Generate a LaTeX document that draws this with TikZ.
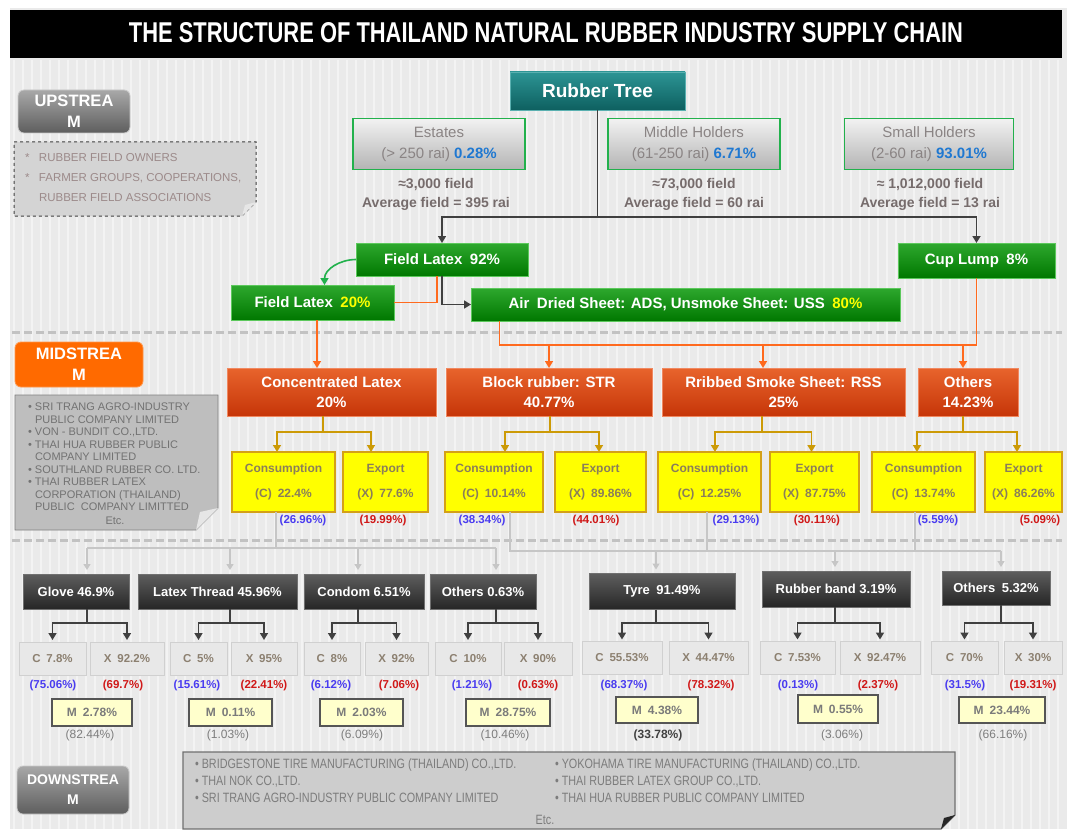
\documentclass[tikz,border=0pt]{standalone}
\usepackage{fontspec}
\usepackage{graphicx}
\setmainfont{Liberation Sans}
\newfontfamily\narrowfont[FakeStretch=0.8]{Liberation Sans}
\usetikzlibrary{arrows.meta,shadings,calc}
\definecolor{bgc}{HTML}{EAEAEA}
\definecolor{stripec}{HTML}{F3F3F3}
\definecolor{tealT}{HTML}{2C9494}
\definecolor{tealB}{HTML}{0E6060}
\definecolor{tealE}{HTML}{5AB0B0}
\definecolor{grnT}{HTML}{2EA82E}
\definecolor{grnB}{HTML}{007800}
\definecolor{grnE}{HTML}{5CC85C}
\definecolor{hbT}{HTML}{F2F2F2}
\definecolor{hbB}{HTML}{B4B4B4}
\definecolor{hbE}{HTML}{22B14C}
\definecolor{hbtxt}{HTML}{8A8484}
\definecolor{infotxt}{HTML}{766C6C}
\definecolor{pctblue}{HTML}{1F78D1}
\definecolor{redT}{HTML}{E8642C}
\definecolor{redB}{HTML}{C63508}
\definecolor{redE}{HTML}{F08860}
\definecolor{goldc}{HTML}{CC9A06}
\definecolor{orng}{HTML}{FF6A1E}
\definecolor{ylw}{HTML}{FFFF00}
\definecolor{ylwE}{HTML}{D4A017}
\definecolor{ytxt}{HTML}{8A7E5A}
\definecolor{dkT}{HTML}{5E5E5E}
\definecolor{dkB}{HTML}{262626}
\definecolor{dkE}{HTML}{707070}
\definecolor{cxF}{HTML}{E8E8E8}
\definecolor{cxE}{HTML}{D0D0D0}
\definecolor{cxtxt}{HTML}{8C8070}
\definecolor{mF}{HTML}{FFFFCC}
\definecolor{mE}{HTML}{555555}
\definecolor{mtxt}{HTML}{7A7A7A}
\definecolor{lblue}{HTML}{4A3CF0}
\definecolor{lred}{HTML}{D01818}
\definecolor{gtxt}{HTML}{7E7E7E}
\definecolor{gline}{HTML}{C6C6C6}
\definecolor{dline}{HTML}{404040}
\definecolor{lblT}{HTML}{A8A8A8}
\definecolor{lblB}{HTML}{5E5E5E}
\definecolor{lblE}{HTML}{C8C8C8}
\definecolor{midO}{HTML}{FF6A00}
\definecolor{upnote}{HTML}{D4D4D4}
\definecolor{midnote}{HTML}{BEBEBE}
\definecolor{dnnote}{HTML}{CDCDCD}
\definecolor{foldc}{HTML}{E6E6E6}
\definecolor{notetxt}{HTML}{9C8A8A}
\definecolor{notetxt2}{HTML}{727272}
\definecolor{dntxt}{HTML}{7C7C7C}
\definecolor{sepc}{HTML}{C2C2C2}
\begin{document}
\begin{tikzpicture}[x=1pt,y=-1pt,
 bx/.style={inner sep=0pt, outer sep=0pt, align=center},
 sz/.style 2 args={minimum width=#1pt, minimum height=#2pt},
 tealbox/.style={bx, top color=tealT, bottom color=tealB, draw=tealE, line width=0.8pt, text=white, font=\fontsize{19}{22}\selectfont\bfseries},
 holder/.style={bx, top color=hbT, bottom color=hbB, draw=hbE, line width=1.6pt, text=hbtxt, font=\fontsize{15}{21}\selectfont},
 info/.style={bx, text=infotxt, font=\fontsize{14}{19}\selectfont\bfseries},
 gbox/.style={bx, top color=grnT, bottom color=grnB, draw=grnE, line width=0.8pt, text=white, font=\fontsize{15}{18}\selectfont\bfseries},
 rbox/.style={bx, top color=redT, bottom color=redB, draw=redE, line width=0.8pt, text=white, font=\fontsize{15}{20}\selectfont\bfseries},
 ybox/.style={bx, fill=ylw, draw=ylwE, line width=1.3pt, text=ytxt, font=\fontsize{12}{25}\selectfont\bfseries},
 dbox/.style={bx, top color=dkT, bottom color=dkB, draw=dkE, line width=0.6pt, text=white, font=\fontsize{13}{15}\selectfont\bfseries},
 cxbox/.style={bx, fill=cxF, draw=cxE, line width=0.8pt, text=cxtxt, font=\fontsize{11.5}{14}\selectfont\bfseries},
 mbox/.style={bx, fill=mF, draw=mE, line width=1.4pt, text=mtxt, font=\fontsize{12}{14}\selectfont\bfseries},
 pb/.style={bx, text=lblue, font=\fontsize{11.5}{14}\selectfont\bfseries},
 pr/.style={bx, text=lred, font=\fontsize{11.5}{14}\selectfont\bfseries},
 pg/.style={bx, text=gtxt, font=\fontsize{12}{14}\selectfont},
 lbl/.style={bx, rounded corners=6pt, top color=lblT, bottom color=lblB, draw=lblE, line width=0.8pt, text=white, font=\fontsize{16.5}{21}\selectfont\bfseries},
 arrowtip/.style={-{Triangle[length=7pt,width=8pt]}},
 dln/.style={draw=dline, line width=1.6pt},
 darr/.style={dln, arrowtip},
 oln/.style={draw=orng, line width=1.6pt},
 oarr/.style={oln, arrowtip},
 grarr/.style={draw=hbE, line width=1.6pt, arrowtip},
 goln/.style={draw=goldc, line width=1.6pt},
 goarr/.style={goln, arrowtip},
 lgln/.style={draw=gline, line width=1.3pt},
 lgarr/.style={lgln, -{Triangle[length=6pt,width=7pt]}, shorten >=4pt},
 sepline/.style={draw=sepc, line width=3pt, dash pattern=on 8pt off 4pt}
]
\useasboundingbox (0,0) rectangle (1067,829);
\fill[white] (0,0) rectangle (1067,829);
\fill[bgc] (10,8) rectangle (1067,829);
\foreach \i in {0,...,116} \draw[stripec, line width=1.2pt] ({14+\i*9},60) -- ({14+\i*9},829);

% separators
\draw[sepline] (12,332) -- (1062,332);
\draw[sepline] (12,540) -- (1062,540);

% title
\node[bx, fill=black, sz={1052}{48}] (titlebar) at (536,34) {};
\node[bx, text=white] (title) at (546,33) {\resizebox{834pt}{20pt}{\bfseries THE STRUCTURE OF THAILAND NATURAL RUBBER INDUSTRY SUPPLY CHAIN}};

% upstream side panel
\node[lbl, sz={112}{43}] (uplbl) at (74,111.5) {UPSTREA\\M};
\filldraw[fill=upnote, draw=dline, dashed, line width=1pt] (14,142) -- (256,142) -- (256,202) -- (242,216) -- (14,216) -- cycle;
\fill[foldc] (256,202) -- (242,216) -- (245,205) -- cycle;
\node[bx, anchor=north west, align=left, text=notetxt, font=\fontsize{11.5}{20}\selectfont] (uptxt) at (25,153)
 {\makebox[14pt][l]{*}RUBBER FIELD OWNERS\\\makebox[14pt][l]{*}FARMER GROUPS, COOPERATIONS,\\\hspace*{14pt}RUBBER FIELD ASSOCIATIONS};

% upstream
\node[tealbox, sz={175}{38}] (tree) at (597.5,91) {Rubber Tree};
\node[holder, sz={172}{51}] (estates) at (439,144) {Estates\\(> 250 rai) \textcolor{pctblue}{\bfseries 0.28\%}};
\node[holder, sz={172}{51}] (middle) at (694,144) {Middle Holders\\(61-250 rai) \textcolor{pctblue}{\bfseries 6.71\%}};
\node[holder, sz={169}{51}] (small) at (929,144) {Small Holders\\(2-60 rai) \textcolor{pctblue}{\bfseries 93.01\%}};
\node[info] (estinfo) at (436,194) {≈3,000 field\\Average field = 395 rai};
\node[info] (midinfo) at (694,194) {≈73,000 field\\Average field = 60 rai};
\node[info] (smlinfo) at (930,194) {≈ 1,012,000 field\\Average field = 13 rai};

\node[gbox, sz={172}{33}] (fl92) at (442,259.5) {Field Latex\enspace 92\%};
\node[gbox, sz={157}{35}] (cup) at (976.5,260.5) {Cup Lump\enspace 8\%};
\node[gbox, sz={163}{35}] (fl20) at (312.5,302.5) {Field Latex\enspace \textcolor{ylw}{20\%}};
\node[gbox, sz={429}{33}] (ads) at (685.5,304.5) {Air\enspace Dried Sheet: ADS, Unsmoke Sheet: USS\enspace\textcolor{ylw}{80\%}};

\path (tree.south) ++(0,107) coordinate (split);
\draw[dln] (tree.south) -- (split);
\draw[darr] (split) -| (fl92.north);
\draw[darr] (split) -| (cup.north);
\draw[grarr] (fl92.west) to[out=180,in=90] ([xshift=12pt]fl20.north);
\draw[darr] (fl92.south) |- (ads.west);
\draw[oln] ([xshift=-5pt]fl92.south) |- (fl20.east);

% midstream side panel
\node[bx, rounded corners=6pt, fill=midO, draw=midO!70!white, line width=0.8pt, text=white, font=\fontsize{16.5}{21}\selectfont\bfseries, sz={128}{45}] (midlbl) at (79,364.5) {MIDSTREA\\M};
\filldraw[fill=midnote, draw=gray, line width=0.8pt] (15,395) -- (218,395) -- (218,508) -- (196,530) -- (15,530) -- cycle;
\fill[foldc] (218,508) -- (196,530) -- (200,512) -- cycle;
\node[bx, anchor=north west, align=left, text=notetxt2, font=\fontsize{11}{12.5}\selectfont] (midtxt) at (28,403)
 {\makebox[7pt][l]{\textbullet}SRI TRANG AGRO-INDUSTRY\\\hspace*{7pt}PUBLIC COMPANY LIMITED\\
  \makebox[7pt][l]{\textbullet}VON - BUNDIT CO.,LTD.\\
  \makebox[7pt][l]{\textbullet}THAI HUA RUBBER PUBLIC\\\hspace*{7pt}COMPANY LIMITED\\
  \makebox[7pt][l]{\textbullet}SOUTHLAND RUBBER CO. LTD.\\
  \makebox[7pt][l]{\textbullet}THAI RUBBER LATEX\\\hspace*{7pt}CORPORATION (THAILAND)\\\hspace*{7pt}PUBLIC\ \ COMPANY LIMITTED};
\node[bx, text=notetxt2, font=\fontsize{11}{12.5}\selectfont] (midetc) at (115,521) {Etc.};

% midstream
\node[rbox, sz={209}{48}] (cl) at (331.5,392) {Concentrated Latex\\20\%};
\node[rbox, sz={206}{48}] (bl) at (549,392) {Block rubber: STR\\40.77\%};
\node[rbox, sz={243}{48}] (rs) at (783.5,392) {Rribbed Smoke Sheet: RSS\\25\%};
\node[rbox, sz={100}{48}] (ot) at (968,392) {Others\\14.23\%};

\path ([xshift=4.5pt]fl20.south) coordinate (fl20s);
\draw[oarr] (fl20s) -- (fl20s |- cl.north);
\path ([xshift=-186pt]ads.south) coordinate (adss);
\path (adss) ++(0,24) coordinate (oy);
\draw[oln] (adss) -- (oy) -- (oy -| cup.south) -- (cup.south);
\draw[oarr] (oy -| bl.north) -- (bl.north);
\path ([xshift=-20.5pt]rs.north) coordinate (rsn);
\draw[oarr] (oy -| rsn) -- (rsn);
\path ([xshift=-5pt]ot.north) coordinate (otn);
\draw[oarr] (oy -| otn) -- (otn);

\node[ybox, sz={103}{60}] (cl-c) at (283.5,482) {Consumption\\(C)\enspace 22.4\%};
\node[ybox, sz={85}{60}] (cl-x) at (385.5,482) {Export\\(X)\enspace 77.6\%};
\node[ybox, sz={98}{60}] (bl-c) at (494,482) {Consumption\\(C)\enspace 10.14\%};
\node[ybox, sz={91}{60}] (bl-x) at (600.5,482) {Export\\(X)\enspace 89.86\%};
\node[ybox, sz={103}{60}] (rs-c) at (709.5,482) {Consumption\\(C)\enspace 12.25\%};
\node[ybox, sz={89}{60}] (rs-x) at (814.5,482) {Export\\(X)\enspace 87.75\%};
\node[ybox, sz={103}{60}] (ot-c) at (923.5,482) {Consumption\\(C)\enspace 13.74\%};
\node[ybox, sz={77}{60}] (ot-x) at (1023.5,482) {Export\\(X)\enspace 86.26\%};

\foreach \n/\s/\a/\b in {cl/-8.5/-6.5/-14.5, bl/1/11/-1.5, rs/-21.5/5.5/-3, ot/-5/-6.5/-6.5} {
  \path ([xshift=\s pt]\n.south) coordinate (\n-s);
  \path (\n-s) ++(0,16) coordinate (\n-b);
  \draw[goln] (\n-s) -- (\n-b);
  \path ([xshift=\a pt]\n-c.north) coordinate (\n-ca);
  \path ([xshift=\b pt]\n-x.north) coordinate (\n-xa);
  \draw[goarr] (\n-b) -| (\n-ca);
  \draw[goarr] (\n-b) -| (\n-xa);
}

\node[pb] (cl-cp) at (303,521) {(26.96\%)};
\node[pr] (cl-xp) at (383,521) {(19.99\%)};
\node[pb] (bl-cp) at (482,521) {(38.34\%)};
\node[pr] (bl-xp) at (596,521) {(44.01\%)};
\node[pb] (rs-cp) at (736,521) {(29.13\%)};
\node[pr] (rs-xp) at (817,521) {(30.11\%)};
\node[pb] (ot-cp) at (938,521) {(5.59\%)};
\node[pr] (ot-xp) at (1040,521) {(5.09\%)};

% downstream
\node[dbox, sz={106}{35}] (glove) at (76,591.5) {Glove 46.9\%};
\node[dbox, sz={159}{35}] (thread) at (217.5,591.5) {Latex Thread 45.96\%};
\node[dbox, sz={120}{35}] (condom) at (364,591.5) {Condom 6.51\%};
\node[dbox, sz={106}{35}] (otha) at (483,591.5) {Others 0.63\%};
\node[dbox, sz={146}{36}] (tyre) at (662,591.5) {Tyre\enspace 91.49\%};
\node[dbox, sz={148}{36}] (rband) at (836,589) {Rubber band 3.19\%};
\node[dbox, sz={108}{34}] (othb) at (996,588) {Others\enspace 5.32\%};

\node[cxbox, sz={67}{33}] (glove-c) at (52.5,658.5) {C\enspace 7.8\%};
\node[cxbox, sz={74}{33}] (glove-x) at (127,658.5) {X\enspace 92.2\%};
\node[cxbox, sz={57}{33}] (thread-c) at (198.5,658.5) {C\enspace 5\%};
\node[cxbox, sz={66}{33}] (thread-x) at (264,658.5) {X\enspace 95\%};
\node[cxbox, sz={56}{33}] (condom-c) at (332,658.5) {C\enspace 8\%};
\node[cxbox, sz={63}{33}] (condom-x) at (396.5,658.5) {X\enspace 92\%};
\node[cxbox, sz={66}{33}] (otha-c) at (468,658.5) {C\enspace 10\%};
\node[cxbox, sz={68}{33}] (otha-x) at (538,658.5) {X\enspace 90\%};
\node[cxbox, sz={80}{33}] (tyre-c) at (622,658) {C\enspace 55.53\%};
\node[cxbox, sz={79}{33}] (tyre-x) at (708.5,658) {X\enspace 44.47\%};
\node[cxbox, sz={75}{33}] (rband-c) at (797.5,658) {C\enspace 7.53\%};
\node[cxbox, sz={80}{33}] (rband-x) at (880,658) {X\enspace 92.47\%};
\node[cxbox, sz={67}{33}] (othb-c) at (964.5,658) {C\enspace 70\%};
\node[cxbox, sz={58}{33}] (othb-x) at (1033,658) {X\enspace 30\%};

\foreach \n/\s in {glove/11, thread/12.5, condom/-6, otha/13, tyre/-6, rband/-1, othb/5} {
  \path ([xshift=\s pt]\n.south) coordinate (\n-s);
  \path (\n-s |- 0,623) coordinate (\n-b);
  \draw[dln] (\n-s) -- (\n-b);
  \draw[darr] (\n-b) -| ([yshift=2pt]\n-c.north);
  \draw[darr] (\n-b) -| ([yshift=2pt]\n-x.north);
}

% light grey feeds from midstream consumption
\path ([xshift=-7.5pt]cl-c.south) coordinate (g1);
\path (g1) ++(0,36) coordinate (g1b);
\draw[lgln] (g1) -- (g1b);
\draw[lgln] (g1b -| glove-s) -- (g1b -| otha-s);
\foreach \n in {glove, thread, condom, otha} \draw[lgarr] (g1b -| \n-s) -- (\n-s |- \n.north);
\path ([xshift=16pt]bl-c.south) coordinate (g2);
\path (g2) ++(0,39) coordinate (g2b);
\draw[lgln] (g2) -- (g2b) -- (g2b -| othb-s);
\path ([xshift=-2.5pt]rs-c.south) coordinate (g3);
\draw[lgln] (g3) -- (g3 |- g2b);
\path ([xshift=-8.5pt]ot-c.south) coordinate (g4);
\draw[lgln] (g4) -- (g4 |- g2b);
\foreach \n in {tyre, rband, othb} \draw[lgarr] (g2b -| \n-s) -- (\n-s |- \n.north);

\node[pb] (glove-cp) at (53,686) {(75.06\%)};
\node[pr] (glove-xp) at (123,686) {(69.7\%)};
\node[pb] (thread-cp) at (197,686) {(15.61\%)};
\node[pr] (thread-xp) at (264,686) {(22.41\%)};
\node[pb] (condom-cp) at (331,686) {(6.12\%)};
\node[pr] (condom-xp) at (399,686) {(7.06\%)};
\node[pb] (otha-cp) at (472,686) {(1.21\%)};
\node[pr] (otha-xp) at (538,686) {(0.63\%)};
\node[pb] (tyre-cp) at (624,686) {(68.37\%)};
\node[pr] (tyre-xp) at (711,686) {(78.32\%)};
\node[pb] (rband-cp) at (798,686) {(0.13\%)};
\node[pr] (rband-xp) at (878,686) {(2.37\%)};
\node[pb] (othb-cp) at (965,686) {(31.5\%)};
\node[pr] (othb-xp) at (1033,686) {(19.31\%)};

\node[mbox, sz={80}{27}] (glove-m) at (92,712.5) {M\enspace 2.78\%};
\node[mbox, sz={83}{27}] (thread-m) at (230.5,712.5) {M\enspace 0.11\%};
\node[mbox, sz={83}{27}] (condom-m) at (361.5,712.5) {M\enspace 2.03\%};
\node[mbox, sz={84}{27}] (otha-m) at (508,712.5) {M\enspace 28.75\%};
\node[mbox, sz={82}{26}] (tyre-m) at (657,710) {M\enspace 4.38\%};
\node[mbox, sz={80}{28}] (rband-m) at (838,709) {M\enspace 0.55\%};
\node[mbox, sz={86}{26}] (othb-m) at (1002,710) {M\enspace 23.44\%};

\node[pg] (glove-mp) at (90,735) {(82.44\%)};
\node[pg] (thread-mp) at (228,735) {(1.03\%)};
\node[pg] (condom-mp) at (362,735) {(6.09\%)};
\node[pg] (otha-mp) at (505,735) {(10.46\%)};
\node[pg, text=dline, font=\fontsize{12}{14}\selectfont\bfseries] (tyre-mp) at (658,735) {(33.78\%)};
\node[pg] (rband-mp) at (842,735) {(3.06\%)};
\node[pg] (othb-mp) at (1003,735) {(66.16\%)};

% downstream side panel
\node[lbl, sz={112}{48}, font=\fontsize{14}{20}\selectfont\bfseries] (dnlbl) at (73,790) {DOWNSTREA\\M};
\filldraw[fill=dnnote, draw=dkE, line width=1.2pt] (183,752) -- (955,752) -- (955,815) -- (941,829) -- (183,829) -- cycle;
\fill[dkB] (955,815) -- (941,829) -- (944,818) -- cycle;
\node[bx, anchor=north west, align=left, text=dntxt, font=\narrowfont\fontsize{13.5}{17}\selectfont] (dntxtA) at (195,759)
 {\textbullet\ BRIDGESTONE TIRE MANUFACTURING (THAILAND) CO.,LTD.\\\textbullet\ THAI NOK CO.,LTD.\\\textbullet\ SRI TRANG AGRO-INDUSTRY PUBLIC COMPANY LIMITED};
\node[bx, anchor=north west, align=left, text=dntxt, font=\narrowfont\fontsize{13.5}{17}\selectfont] (dntxtB) at (555,759)
 {\textbullet\ YOKOHAMA TIRE MANUFACTURING (THAILAND) CO.,LTD.\\\textbullet\ THAI RUBBER LATEX GROUP CO.,LTD.\\\textbullet\ THAI HUA RUBBER PUBLIC COMPANY LIMITED};
\node[bx, text=dntxt, font=\narrowfont\fontsize{13.5}{17}\selectfont] (dnetc) at (545,820) {Etc.};
\end{tikzpicture}
\end{document}
